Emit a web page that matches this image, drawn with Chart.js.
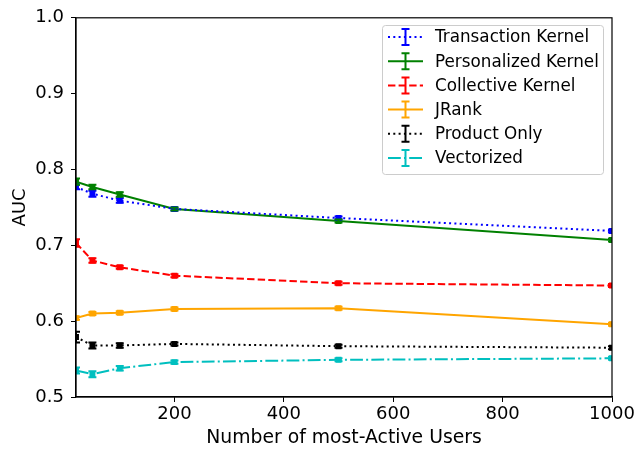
<!DOCTYPE html>
<html>
<head>
<meta charset="utf-8">
<script src="https://cdn.jsdelivr.net/npm/chart.js@4.4.1/dist/chart.umd.min.js"></script>
<style>
html,body{margin:0;padding:0;background:#fff;}
#wrap{width:638px;height:449px;position:relative;}
</style>
</head>
<body>
<div id="wrap"><canvas id="c" width="638" height="449"></canvas></div>
<script>
// ---- data ----
const users = [20, 50, 100, 200, 500, 1000];
const xTicks = [200, 400, 600, 800, 1000];
const yTicks = [0.5, 0.6, 0.7, 0.8, 0.9, 1.0];

const transactionKernel = [0.777, 0.768, 0.759, 0.748, 0.736, 0.719];
const transactionErr    = [0.003, 0.004, 0.003, 0.002, 0.002, 0.002];
const personalizedKernel = [0.784, 0.777, 0.767, 0.748, 0.732, 0.707];
const personalizedErr    = [0.004, 0.003, 0.003, 0.002, 0.002, 0.002];
const collectiveKernel = [0.703, 0.680, 0.671, 0.660, 0.650, 0.647];
const collectiveErr    = [0.005, 0.003, 0.002, 0.002, 0.002, 0.002];
const jRank = [0.604, 0.610, 0.611, 0.616, 0.617, 0.596];
const jRankErr = [0.002, 0.002, 0.002, 0.002, 0.002, 0.002];
const productOnly = [0.579, 0.568, 0.568, 0.570, 0.567, 0.565];
const productErr  = [0.007, 0.004, 0.003, 0.002, 0.002, 0.002];
const vectorized = [0.535, 0.530, 0.538, 0.546, 0.549, 0.551];
const vectorizedErr = [0.004, 0.004, 0.003, 0.002, 0.002, 0.002];

const seriesNames = ['Transaction Kernel','Personalized Kernel','Collective Kernel','JRank','Product Only','Vectorized'];
const seriesValues = [transactionKernel, personalizedKernel, collectiveKernel, jRank, productOnly, vectorized];
const seriesErrors = [transactionErr, personalizedErr, collectiveErr, jRankErr, productErr, vectorizedErr];
const seriesColors = ['#0000ff','#008000','#ff0000','#ffa500','#000000','#00bfbf'];
const seriesDashes = [[2,3.3],[],[7.4,3.2],[],[2,3.3],[12.8,3.2,2,3.2]];

const FONT = 'DejaVu Sans';

const datasets = seriesNames.map((name,i)=>({
  label: name,
  data: users.map((u,j)=>({x:u, y:seriesValues[i][j]})),
  errors: seriesErrors[i],
  borderColor: seriesColors[i],
  backgroundColor: seriesColors[i],
  borderWidth: 2,
  borderDash: seriesDashes[i],
  pointStyle: 'rect',
  pointRadius: 4.2,
  pointBorderWidth: 0,
  pointHoverRadius: 4.2,
  tension: 0,
  fill: false,
  clip: 0
}));

const errorBarPlugin = {
  id: 'errorBars',
  afterDatasetsDraw(chart) {
    const ctx = chart.ctx, xs = chart.scales.x, ys = chart.scales.y, a = chart.chartArea;
    ctx.save();
    ctx.beginPath(); ctx.rect(a.left, a.top, a.right-a.left, a.bottom-a.top); ctx.clip();
    chart.data.datasets.forEach(ds=>{
      ctx.strokeStyle = ds.borderColor; ctx.lineWidth = 2; ctx.setLineDash([]);
      ds.data.forEach((p,j)=>{
        const e = ds.errors[j];
        const px = xs.getPixelForValue(p.x);
        const y1 = ys.getPixelForValue(p.y - e), y2 = ys.getPixelForValue(p.y + e);
        ctx.beginPath();
        ctx.moveTo(px, y1); ctx.lineTo(px, y2);
        ctx.moveTo(px-4, y1); ctx.lineTo(px+4, y1);
        ctx.moveTo(px-4, y2); ctx.lineTo(px+4, y2);
        ctx.stroke();
      });
    });
    ctx.restore();
  }
};

const frameLegendPlugin = {
  id: 'frameLegend',
  afterDraw(chart) {
    const ctx = chart.ctx, a = chart.chartArea;
    ctx.save();
    ctx.strokeStyle = '#000'; ctx.lineWidth = 1.2; ctx.setLineDash([]);
    ctx.strokeRect(a.left, a.top, a.right-a.left, a.bottom-a.top);
    // legend
    const bx = 382.5, by = 25.5, bw = 221, bh = 149;
    ctx.fillStyle = 'rgba(255,255,255,0.8)';
    ctx.strokeStyle = '#cccccc'; ctx.lineWidth = 1;
    ctx.beginPath();
    if (ctx.roundRect) ctx.roundRect(bx, by, bw, bh, 3); else ctx.rect(bx, by, bw, bh);
    ctx.fill(); ctx.stroke();
    ctx.font = '16.8px "' + FONT + '"';
    ctx.textBaseline = 'middle'; ctx.textAlign = 'left';
    chart.data.datasets.forEach((ds,i)=>{
      const cy = 37 + i*24.2;
      ctx.strokeStyle = ds.borderColor; ctx.lineWidth = 2;
      ctx.setLineDash(ds.borderDash);
      ctx.beginPath(); ctx.moveTo(388, cy); ctx.lineTo(423, cy); ctx.stroke();
      ctx.setLineDash([]);
      ctx.beginPath();
      ctx.moveTo(405.5, cy-8); ctx.lineTo(405.5, cy+8);
      ctx.moveTo(401.5, cy-8); ctx.lineTo(409.5, cy-8);
      ctx.moveTo(401.5, cy+8); ctx.lineTo(409.5, cy+8);
      ctx.stroke();
      ctx.fillStyle = '#000';
      ctx.fillText(ds.label, 435, cy+1);
    });
    ctx.restore();
  }
};

new Chart(document.getElementById('c'), {
  type: 'line',
  data: { datasets },
  options: {
    responsive: false,
    animation: false,
    events: [],
    layout: { padding: { top: 17, right: 26, left: 0, bottom: 0 } },
    plugins: { legend: { display: false }, tooltip: { enabled: false } },
    scales: {
      x: {
        type: 'linear', min: 20, max: 1000,
        afterBuildTicks(s){ s.ticks = xTicks.map(v=>({value:v})); },
        afterFit(s){ s.height = 52; },
        grid: { drawOnChartArea: false, drawTicks: true, tickLength: 5, color: '#000', tickWidth: 1 },
        border: { display: true, color: '#000', width: 1.2 },
        ticks: { color: '#000', font: { family: FONT, size: 18 }, padding: 2, maxRotation: 0,
                 callback: v => String(v) },
        title: { display: true, text: 'Number of most-Active Users', color: '#000',
                 font: { family: FONT, size: 18.8 }, padding: { top: 0, bottom: 0 } }
      },
      y: {
        type: 'linear', min: 0.5, max: 1.0,
        afterBuildTicks(s){ s.ticks = yTicks.map(v=>({value:v})); },
        afterFit(s){ s.width = 76; },
        grid: { drawOnChartArea: false, drawTicks: true, tickLength: 5, color: '#000', tickWidth: 1 },
        border: { display: true, color: '#000', width: 1.2 },
        ticks: { color: '#000', font: { family: FONT, size: 18 }, padding: 7,
                 callback: v => Number(v).toFixed(1) },
        title: { display: true, text: 'AUC', color: '#000',
                 font: { family: FONT, size: 18 }, padding: { top: 10, bottom: 0 } }
      }
    }
  },
  plugins: [errorBarPlugin, frameLegendPlugin]
});
</script>
</body>
</html>
